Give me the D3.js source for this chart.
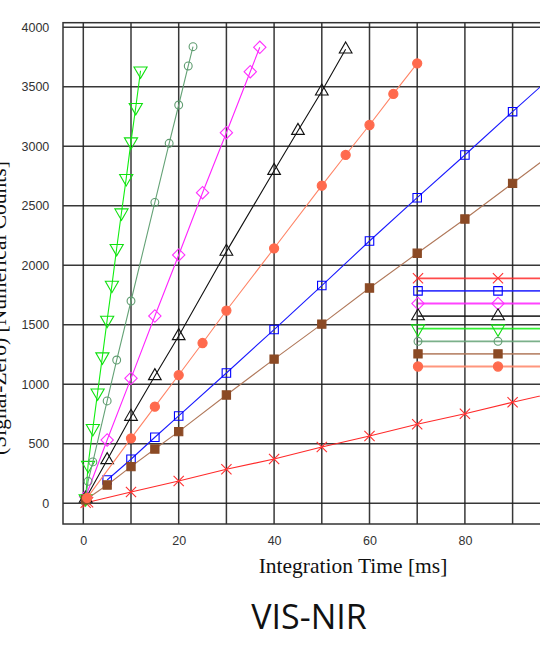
<!DOCTYPE html>
<html><head><meta charset="utf-8">
<script src="https://cdn.jsdelivr.net/npm/d3@7"></script>
<style>body{margin:0;background:#fff}svg{display:block}</style>
</head><body>
<svg id="c" width="540" height="648"></svg>
<script>
// ---- data ----
const xTicks = [0, 20, 40, 60, 80];
const yTicks = [0, 500, 1000, 1500, 2000, 2500, 3000, 3500, 4000];
const xGrid = [0, 10, 20, 30, 40, 50, 60, 70, 80, 90, 100];

const redT = [0.5, 1, 10, 20, 30, 40, 50, 60, 70, 80, 90, 100];
const redV = [5, 9, 95, 187, 286, 372, 473, 565, 664, 753, 849, 940];

const blueT = [5, 10, 15, 20, 30, 40, 50, 60, 70, 80, 90, 100];
const blueV = [196, 370, 555, 734, 1095, 1460, 1830, 2204, 2568, 2927, 3291, 3650];

const magentaT = [0.5, 5, 10, 15, 20, 25, 30, 35, 37];
const magentaV = [55, 532, 1050, 1574, 2087, 2610, 3114, 3627, 3832];

const blackT = [0.5, 5, 10, 15, 20, 30, 40, 45, 50, 55];
const blackV = [40, 364, 728, 1070, 1406, 2115, 2795, 3131, 3462, 3815];

const limeT = [0.5, 1, 2, 3, 4, 5, 6, 7, 8, 9, 10, 11, 12];
const limeV = [40, 320, 630, 929, 1232, 1540, 1834, 2143, 2442, 2731, 3039, 3328, 3635];

const seaT = [0.5, 1, 2, 5, 7, 10, 15, 18, 20, 22, 23];
const seaV = [40, 185, 348, 860, 1204, 1700, 2529, 3025, 3347, 3675, 3837];

const brownT = [0.5, 5, 10, 15, 20, 30, 40, 50, 60, 70, 80, 90, 100];
const brownV = [30, 154, 308, 456, 602, 910, 1212, 1506, 1809, 2101, 2389, 2689, 2990];

const tomatoT = [0.8, 10, 15, 20, 25, 30, 40, 50, 55, 60, 65, 70];
const tomatoV = [45, 546, 812, 1078, 1347, 1620, 2143, 2669, 2927, 3179, 3440, 3697];

const seriesOrder = ["red", "blue", "magenta", "black", "lime", "sea", "brown", "tomato"];

// ---- styles ----
const styles = {
  red:     {t: redT, v: redV, line: "#ff2a2a", mk: "x", stroke: "#ff3030", fill: "none", size: 70},
  blue:    {t: blueT, v: blueV, line: "#1a1aff", mk: "square", stroke: "#0000ff", fill: "none", size: 72},
  magenta: {t: magentaT, v: magentaV, line: "#ff22ff", mk: "diamond", stroke: "#ff30ff", fill: "none", size: 76},
  black:   {t: blackT, v: blackV, line: "#111", mk: "triUp", stroke: "#111", fill: "none", size: 70},
  lime:    {t: limeT, v: limeV, line: "#11ee11", mk: "triDown", stroke: "#10e010", fill: "none", size: 75},
  sea:     {t: seaT, v: seaV, line: "#64a276", mk: "circle", stroke: "#5f9c70", fill: "none", size: 48},
  brown:   {t: brownT, v: brownV, line: "#b0785a", mk: "square", stroke: "#8b4a25", fill: "#8b4a25", size: 68},
  tomato:  {t: tomatoT, v: tomatoV, line: "#ff8466", mk: "circle", stroke: "#ff6a4d", fill: "#ff6a4d", size: 66}
};

// ---- layout ----
const svg = d3.select("#c");
const x = d3.scaleLinear().domain([0, 100]).range([83.3, 560.3]);
const y = d3.scaleLinear().domain([0, 4000]).range([503.3, 27.3]);
const plotL = 63, plotT = 22.7, plotB = 524, plotR = 600;

// grid
const g = svg.append("g");
g.selectAll("line.v").data(xGrid).join("line")
  .attr("x1", d => x(d)).attr("x2", d => x(d)).attr("y1", plotT).attr("y2", plotB)
  .attr("stroke", "#222").attr("stroke-width", 1.5).attr("stroke-opacity", 0.9);
g.selectAll("line.h").data(yTicks).join("line")
  .attr("x1", plotL).attr("x2", plotR).attr("y1", d => y(d)).attr("y2", d => y(d))
  .attr("stroke", "#222").attr("stroke-width", 1.5).attr("stroke-opacity", 0.9);
// frame
svg.append("rect").attr("x", plotL).attr("y", plotT).attr("width", plotR - plotL).attr("height", plotB - plotT)
  .attr("fill", "none").attr("stroke", "#333").attr("stroke-width", 1.5);

// axes
const xAxis = svg.append("g").attr("transform", `translate(0,${plotB})`)
  .call(d3.axisBottom(x).tickValues(xTicks).tickSize(0).tickPadding(12).tickFormat(d3.format("d")));
xAxis.select(".domain").remove();
const yAxis = svg.append("g").attr("transform", `translate(${plotL},0)`)
  .call(d3.axisLeft(y).tickValues(yTicks).tickSize(0).tickPadding(13.7).tickFormat(d3.format("d")));
yAxis.select(".domain").remove();
svg.selectAll(".tick text").attr("font-family", "'Liberation Sans', Arial, sans-serif")
  .attr("font-size", 12.5).attr("fill", "#333");

// symbols
function sym(kind, size) {
  if (kind === "x") return d3.symbol(d3.symbolTimes, size)();
  if (kind === "square") return d3.symbol(d3.symbolSquare, size)();
  if (kind === "diamond") return d3.symbol(d3.symbolSquare, size)();
  if (kind === "circle") return d3.symbol(d3.symbolCircle, size)();
  return d3.symbol(d3.symbolTriangle, size)();
}
function rot(kind) {
  if (kind === "diamond") return " rotate(45)";
  if (kind === "triDown") return " rotate(180)";
  return "";
}

const line = d3.line().x(d => x(d[0])).y(d => y(d[1]));
const plot = svg.append("g");
seriesOrder.forEach(k => {
  const s = styles[k];
  const pts = s.t.map((t, i) => [t, s.v[i]]);
  plot.append("path").attr("d", line(pts)).attr("fill", "none")
    .attr("stroke", s.line).attr("stroke-width", 1.1);
  plot.selectAll(null).data(pts).join("path")
    .attr("d", sym(s.mk, s.size))
    .attr("transform", d => `translate(${x(d[0])},${y(d[1])})` + rot(s.mk))
    .attr("fill", s.fill).attr("stroke", s.stroke).attr("stroke-width", 1.1);
});

// legend (text part is cut off at the right edge)
const legX1 = 418, legX2 = 498;
seriesOrder.forEach((k, i) => {
  const s = styles[k];
  const ly = 278.3 + i * 12.6;
  svg.append("line").attr("x1", legX1).attr("x2", 600).attr("y1", ly).attr("y2", ly)
    .attr("stroke", s.line).attr("stroke-width", 1.8).attr("stroke-opacity", 0.85);
  [legX1, legX2].forEach(lx => {
    svg.append("path").attr("d", sym(s.mk, s.size))
      .attr("transform", `translate(${lx},${ly})` + rot(s.mk))
      .attr("fill", s.fill).attr("stroke", s.stroke).attr("stroke-width", 1.1);
  });
});

// titles
svg.append("text").attr("x", 353).attr("y", 573).attr("text-anchor", "middle")
  .attr("font-family", "'Liberation Serif', 'Times New Roman', serif").attr("font-size", 21.5)
  .attr("fill", "#111").text("Integration Time [ms]");
svg.append("text").attr("transform", "translate(6,308) rotate(-90)").attr("text-anchor", "middle")
  .attr("font-family", "'Liberation Serif', 'Times New Roman', serif").attr("font-size", 21.5)
  .attr("fill", "#111").text("(Signal-Zero) [Numerical Counts]");
svg.append("text").attr("x", 309).attr("y", 629).attr("text-anchor", "middle")
  .attr("font-family", "'Open Sans', sans-serif").attr("font-size", 34)
  .attr("fill", "#111").text("VIS-NIR");
</script>
</body></html>
